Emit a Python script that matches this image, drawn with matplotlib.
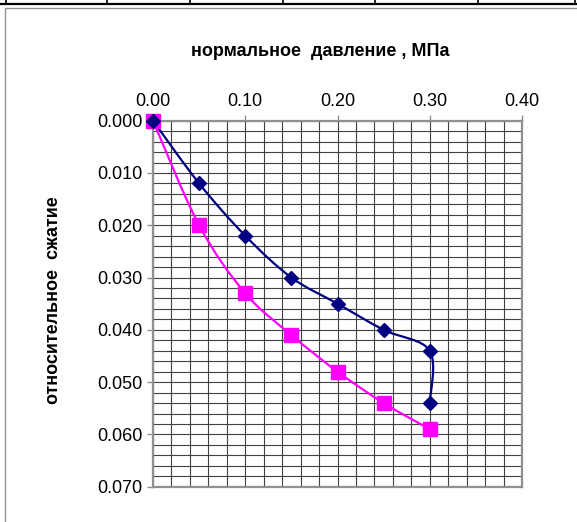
import matplotlib
matplotlib.use("Agg")
import matplotlib.pyplot as plt
import numpy as np
from matplotlib.path import Path
from matplotlib.patches import PathPatch, Rectangle
from matplotlib.lines import Line2D
from matplotlib.ticker import MultipleLocator

plt.rcParams['font.family'] = ['Liberation Sans', 'DejaVu Sans']

# Data
pressure_1 = [0.00, 0.05, 0.10, 0.15, 0.20, 0.25, 0.30, 0.30]
strain_1 = [0.000, 0.012, 0.022, 0.030, 0.035, 0.040, 0.044, 0.054]
pressure_2 = [0.00, 0.05, 0.10, 0.15, 0.20, 0.25, 0.30]
strain_2 = [0.000, 0.020, 0.033, 0.041, 0.048, 0.054, 0.059]
x_title = "нормальное  давление , МПа"
y_title = "относительное  сжатие"

W, H = 577, 522
fig = plt.figure(figsize=(W / 100, H / 100), dpi=100)

# table lines at top
fig.add_artist(Line2D([0, 1], [1 - 4 / H, 1 - 4 / H], color='black', lw=1.6))
for xp in [6, 107, 190, 283, 375, 478, 575]:
    fig.add_artist(Line2D([xp / W, xp / W], [1, 1 - 4 / H], color='black', lw=1.2))
# chart area border
fig.add_artist(Rectangle((5 / W, -0.1), 1.2, 1 - 8 / H + 0.1, transform=fig.transFigure,
                         fill=False, edgecolor='#909090', lw=1.0))

ax = fig.add_axes([153 / W, 1 - 486.7 / H, (522 - 153) / W, (486.7 - 120.7) / H])
ax.set_xlim(0, 0.40)
ax.set_ylim(0.070, 0.0)

ax.xaxis.tick_top()
ax.xaxis.set_label_position('top')
ax.xaxis.set_major_locator(MultipleLocator(0.10))
ax.xaxis.set_minor_locator(MultipleLocator(0.02))
ax.yaxis.set_major_locator(MultipleLocator(0.010))
ax.yaxis.set_minor_locator(MultipleLocator(0.002))
ax.xaxis.set_major_formatter(plt.FuncFormatter(lambda v, p: f"{v:.2f}"))
ax.yaxis.set_major_formatter(plt.FuncFormatter(lambda v, p: f"{v:.3f}"))
ax.tick_params(which='major', direction='out', length=4, width=1, color='#909090',
               labelsize=13, labelcolor='black')
ax.tick_params(axis='x', which='major', pad=4)
ax.tick_params(axis='y', which='major', pad=3.5)
ax.tick_params(which='minor', length=0)
ax.grid(True, which='both', color='#404040', lw=0.8)
ax.set_axisbelow(True)
for s in ax.spines.values():
    s.set_color('#909090')
    s.set_linewidth(1.6)


def smooth_path(xs, ys):
    pts = np.column_stack([xs, ys]).astype(float)
    n = len(pts)
    verts = [pts[0]]
    codes = [Path.MOVETO]
    for i in range(n - 1):
        p0 = pts[i - 1] if i > 0 else pts[i]
        p1 = pts[i]
        p2 = pts[i + 1]
        p3 = pts[i + 2] if i + 2 < n else pts[i + 1]
        c1 = p1 + (p2 - p0) / 6.0
        c2 = p2 - (p3 - p1) / 6.0
        verts += [c1, c2, p2]
        codes += [Path.CURVE4] * 3
    return Path(verts, codes)


ax.add_patch(PathPatch(smooth_path(pressure_1, strain_1), fill=False, edgecolor='#000080',
                       lw=1.6, zorder=3))
ax.add_patch(PathPatch(smooth_path(pressure_2, strain_2), fill=False, edgecolor='#FF00FF',
                       lw=1.6, zorder=3))
ax.plot(pressure_2, strain_2, ls='none', marker='s', ms=9.5, color='#FF00FF', zorder=4, clip_on=False)
ax.plot(pressure_1, strain_1, ls='none', marker='D', ms=7, color='#000080', zorder=5, clip_on=False)

fig.text(320 / W, 1 - 52 / H, x_title, ha='center', va='center', fontsize=13, fontweight='bold')
fig.text(54 / W, 1 - 300 / H, y_title, ha='center', va='center', rotation=90,
         fontsize=13, fontweight='bold')

fig.savefig('out.png', dpi=100)
